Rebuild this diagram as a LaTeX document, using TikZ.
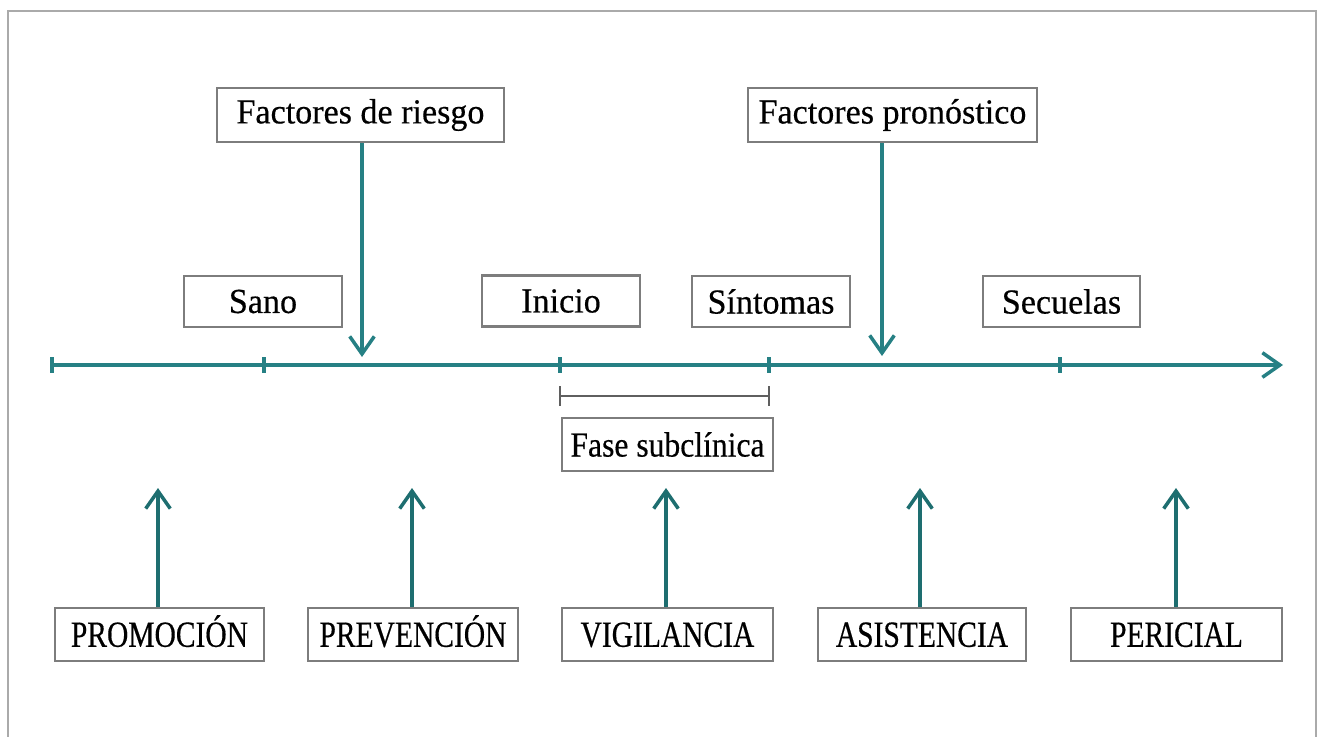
\documentclass[tikz,border=0pt]{standalone}
\usepackage{fontspec}
\setmainfont[FakeStretch=0.97,FakeBold=0.4]{Liberation Serif}
\newfontfamily\capsfont[FakeStretch=0.8,FakeBold=0.4]{Liberation Serif}
\newfontfamily\narrowfont[FakeStretch=0.9,FakeBold=0.4]{Liberation Serif}
\usetikzlibrary{arrows.meta}
\definecolor{tealc}{RGB}{38,128,132}
\definecolor{tealdark}{RGB}{30,110,112}
\definecolor{boxgray}{RGB}{125,125,125}
\definecolor{framegray}{RGB}{170,170,170}
\definecolor{brackgray}{RGB}{95,95,95}
\begin{document}
\begin{tikzpicture}[x=0.02cm,y=-0.02cm,
  lbl/.style={draw=boxgray,line width=1.2pt,fill=white,inner sep=0pt,
    font=\fontsize{20}{22}\selectfont},
  capbox/.style={lbl,minimum height=1.06cm,text height=14pt,text depth=0pt,
    font=\capsfont\fontsize{21}{22}\selectfont},
  conn/.style={draw=tealc,line width=2pt,
    -{Straight Barb[length=10pt,width=14pt]}},
  upconn/.style={conn,draw=tealdark},
  tick/.style={draw=tealc,line width=1.8pt},
  brack/.style={draw=brackgray,line width=1.5pt}
]
\useasboundingbox (0,0) rectangle (1322,737);
% frame
\draw[framegray,line width=1.2pt] (8,737) -- (8,11) -- (1316,11) -- (1316,737);

% top boxes
\node[lbl,minimum width=5.74cm,minimum height=1.08cm] (riesgo) at (360.5,115) {Factores de riesgo};
\node[lbl,minimum width=5.78cm,minimum height=1.08cm] (pron) at (892.5,115) {Factores pronóstico};

% stage boxes
\node[lbl,minimum width=3.16cm,minimum height=1.02cm] (sano) at (263,301.5) {Sano};
\node[lbl,minimum width=3.16cm,minimum height=1.02cm] (inicio) at (561,301) {Inicio};
\node[lbl,minimum width=3.16cm,minimum height=1.02cm] (sint) at (771,301.5) {Síntomas};
\node[lbl,minimum width=3.14cm,minimum height=1.02cm] (secu) at (1061.5,301.5) {Secuelas};

% timeline
\coordinate (t0) at (52,365);
\coordinate (tEnd) at (1283,365);
\coordinate (k1) at (52,365);
\coordinate (k2) at (264,365);
\coordinate (k3) at (560,365);
\coordinate (k4) at (769,365);
\coordinate (k5) at (1060,365);
\draw[conn] (t0) -- (tEnd);
\foreach \k in {k1,k2,k3,k4,k5}
  \draw[tick] (\k) ++(0,-8) -- ++(0,16);

% arrows from factors
\coordinate (tipR) at (362,357);
\coordinate (tipP) at (882,356);
\draw[conn] (riesgo.south -| tipR) -- (tipR);
\draw[conn] (pron.south -| tipP) -- (tipP);

% subclinical bracket
\coordinate (b1) at (560,396);
\coordinate (b2) at (769,396);
\draw[brack] (b1) -- (b2);
\draw[brack] (b1) ++(0,-10) -- ++(0,20);
\draw[brack] (b2) ++(0,-10) -- ++(0,20);
\node[lbl,minimum width=4.22cm,minimum height=1.06cm,font=\narrowfont\fontsize{20}{22}\selectfont] (fase) at (667.5,444.5) {Fase subclínica};

% bottom boxes
\node[capbox,minimum width=4.18cm] (promo) at (159.5,634.5) {PROMOCIÓN};
\node[capbox,minimum width=4.20cm] (prev) at (413,634.5) {PREVENCIÓN};
\node[capbox,minimum width=4.22cm] (vig) at (667.5,634.5) {VIGILANCIA};
\node[capbox,minimum width=4.16cm] (asis) at (922,634.5) {ASISTENCIA};
\node[capbox,minimum width=4.22cm] (peri) at (1176.5,634.5) {PERICIAL};

% up arrows
\coordinate (u1) at (158,488);
\coordinate (u2) at (412,488);
\coordinate (u3) at (666,488);
\coordinate (u4) at (920,488);
\coordinate (u5) at (1176,488);
\draw[upconn] (promo.north -| u1) -- (u1);
\draw[upconn] (prev.north -| u2) -- (u2);
\draw[upconn] (vig.north -| u3) -- (u3);
\draw[upconn] (asis.north -| u4) -- (u4);
\draw[upconn] (peri.north -| u5) -- (u5);
\end{tikzpicture}
\end{document}
